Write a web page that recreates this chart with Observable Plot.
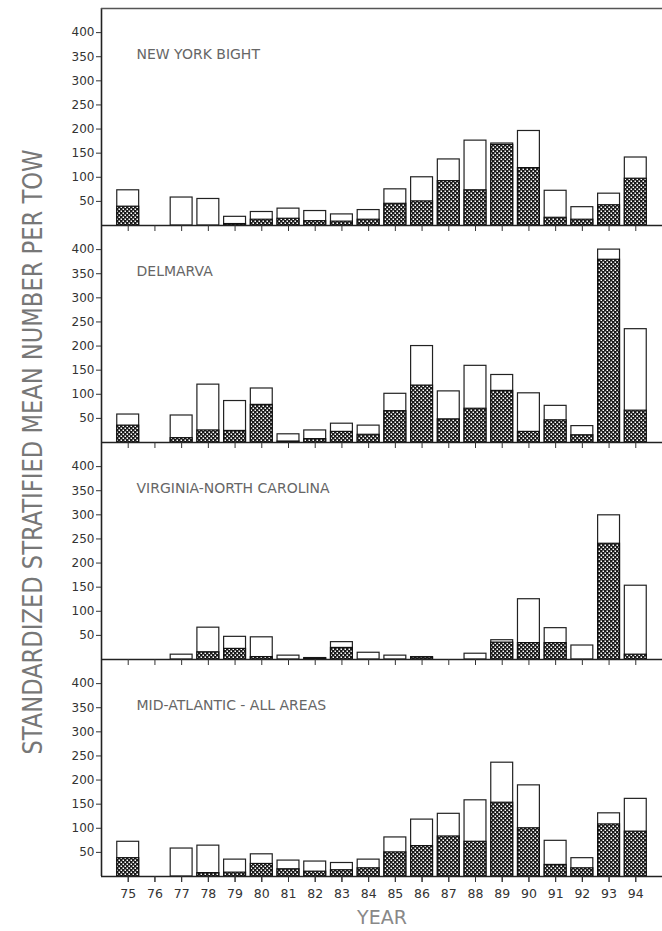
<!DOCTYPE html>
<html>
<head>
<meta charset="utf-8">
<script src="https://cdn.jsdelivr.net/npm/d3@7"></script>
<script src="https://cdn.jsdelivr.net/npm/@observablehq/plot@0.6"></script>
<style>
  body { margin: 0; background: #fff; }
  #wrap { position: relative; width: 662px; height: 931px; background: #fff; }
  #overlay { position: absolute; left: 0; top: 0; pointer-events: none; }
</style>
</head>
<body>
<div id="wrap"></div>
<script>
// ---- data ----
const years = [75, 76, 77, 78, 79, 80, 81, 82, 83, 84, 85, 86, 87, 88, 89, 90, 91, 92, 93, 94];
const regions = ["NEW YORK BIGHT", "DELMARVA", "VIRGINIA-NORTH CAROLINA", "MID-ATLANTIC - ALL AREAS"];
const yTicks = [50, 100, 150, 200, 250, 300, 350, 400];

const nybTotal   = [73, 0, 58, 55, 18, 28, 35, 30, 23, 32, 75, 100, 137, 176, 170, 196, 72, 38, 66, 141];
const nybHatched = [39, 0, 0, 0, 3, 12, 14, 9, 8, 12, 45, 50, 92, 73, 167, 119, 16, 12, 42, 97];

const delTotal   = [58, 0, 56, 120, 86, 112, 17, 25, 39, 35, 101, 200, 106, 159, 140, 102, 76, 34, 400, 235];
const delHatched = [35, 0, 9, 25, 24, 78, 2, 7, 22, 16, 65, 118, 48, 70, 107, 22, 46, 15, 379, 66];

const vncTotal   = [0, 0, 10, 66, 47, 46, 8, 3, 36, 14, 8, 5, 0, 12, 40, 125, 65, 29, 299, 153];
const vncHatched = [0, 0, 0, 15, 22, 5, 0, 2, 24, 0, 0, 4, 0, 0, 35, 34, 34, 0, 240, 10];

const allTotal   = [72, 0, 58, 64, 35, 46, 33, 31, 28, 35, 81, 118, 130, 158, 236, 189, 74, 38, 131, 161];
const allHatched = [38, 0, 0, 7, 8, 26, 15, 10, 13, 17, 50, 63, 83, 72, 153, 100, 24, 17, 108, 93];

// ---- build table ----
const series = [
  [regions[0], nybTotal, nybHatched],
  [regions[1], delTotal, delHatched],
  [regions[2], vncTotal, vncHatched],
  [regions[3], allTotal, allHatched]
];
const rows = [];
for (const [region, tot, hat] of series) {
  years.forEach((year, i) => rows.push({region, year, total: tot[i], hatched: hat[i]}));
}
const half = 0.41;
const labelRows = regions.map(r => ({region: r, label: r}));
const topRow = [{region: regions[0], v: 450}];

const plot = Plot.plot({
  width: 662,
  height: 931,
  marginLeft: 101,
  marginRight: 0,
  marginTop: 6,
  marginBottom: 54,
  style: {fontFamily: "DejaVu Sans, sans-serif", fontSize: "12px", color: "#333", background: "#fff", overflow: "visible"},
  x: {type: "linear", domain: [74, 95]},
  y: {domain: [0, 450]},
  fy: {domain: regions, padding: 0, axis: null},
  marks: [
    Plot.rect(rows.filter(d => d.total > 0), {
      fy: "region", x1: d => d.year - half, x2: d => d.year + half, y1: 0, y2: "total",
      fill: "#fff", stroke: "#222", strokeWidth: 1.2
    }),
    Plot.rect(rows.filter(d => d.hatched > 0), {
      fy: "region", x1: d => d.year - half, x2: d => d.year + half, y1: 0, y2: "hatched",
      fill: "url(#xhatch)", stroke: "#111", strokeWidth: 1.2
    }),
    Plot.ruleX([74], {stroke: "#222", strokeWidth: 1.6}),
    Plot.ruleY([0], {stroke: "#222", strokeWidth: 1.6}),
    Plot.ruleY(topRow, {fy: "region", y: "v", stroke: "#555", strokeWidth: 1.6}),
    Plot.axisY({ticks: yTicks, tickSize: 5, tickPadding: 2, label: null, fontSize: 12, fill: "#333"}),
    Plot.axisX({ticks: years, tickSize: 6, tickFormat: () => "", facetAnchor: null, label: null}),
    Plot.axisX({ticks: years, tickSize: 6, tickPadding: 7, tickFormat: d => String(d), label: null, fontSize: 12.5, fill: "#333"}),
    Plot.text(labelRows, {
      fy: "region", text: "label", frameAnchor: "top-left", dx: 35, dy: 46,
      textAnchor: "start", lineAnchor: "middle", fill: "#666", fontSize: 14, fontFamily: "DejaVu Sans, sans-serif"
    })
  ]
});

// crosshatch pattern
const ns = "http://www.w3.org/2000/svg";
const defs = document.createElementNS(ns, "defs");
defs.innerHTML = '<pattern id="xhatch" width="4" height="4" patternUnits="userSpaceOnUse">' +
  '<rect width="4" height="4" fill="#1a1a1a"/>' +
  '<rect x="0.5" y="0.5" width="1.5" height="1.5" fill="#fff"/>' +
  '<rect x="2.5" y="2.5" width="1.5" height="1.5" fill="#fff"/></pattern>';
plot.insertBefore(defs, plot.firstChild);

const wrap = document.getElementById("wrap");
wrap.appendChild(plot);

// titles overlay
const ov = document.createElementNS(ns, "svg");
ov.setAttribute("id", "overlay");
ov.setAttribute("width", 662);
ov.setAttribute("height", 931);
const yt = document.createElementNS(ns, "text");
yt.setAttribute("transform", "translate(33,452) rotate(-90)");
yt.setAttribute("text-anchor", "middle");
yt.setAttribute("dominant-baseline", "central");
yt.setAttribute("font-family", "'Liberation Sans Narrow', 'DejaVu Sans Condensed', 'DejaVu Sans', sans-serif");
yt.setAttribute("font-size", "26");
yt.setAttribute("fill", "#777");
yt.setAttribute("textLength", "605");
yt.setAttribute("lengthAdjust", "spacingAndGlyphs");
yt.textContent = "STANDARDIZED STRATIFIED MEAN NUMBER PER TOW";
ov.appendChild(yt);
const xt = document.createElementNS(ns, "text");
xt.setAttribute("x", 382);
xt.setAttribute("y", 917);
xt.setAttribute("text-anchor", "middle");
xt.setAttribute("dominant-baseline", "central");
xt.setAttribute("font-family", "'DejaVu Sans', sans-serif");
xt.setAttribute("font-size", "19");
xt.setAttribute("fill", "#888");
xt.textContent = "YEAR";
ov.appendChild(xt);
wrap.appendChild(ov);
</script>
</body>
</html>
